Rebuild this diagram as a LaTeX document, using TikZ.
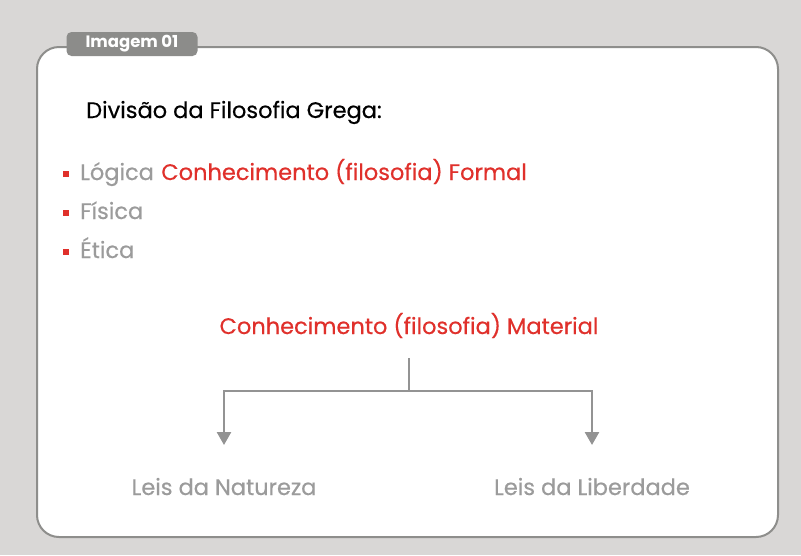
\documentclass[tikz,border=0pt]{standalone}
\usepackage{fontspec}
\setmainfont{Poppins}[FakeBold=0.4]
\newfontfamily\tabfont{Poppins}
\usetikzlibrary{arrows.meta}
\definecolor{bg}{HTML}{D9D7D6}
\definecolor{frame}{HTML}{8E8E8C}
\definecolor{tabc}{HTML}{8C8C8A}
\definecolor{redt}{HTML}{E0302B}
\definecolor{grayt}{HTML}{9B9B9B}
\definecolor{linec}{HTML}{939393}
\tikzset{
  gtext/.style={text=grayt, anchor=base west, inner sep=0pt, font=\fontsize{22.5}{26}\selectfont},
  rtext/.style={text=redt, inner sep=0pt, font=\fontsize{22.5}{26}\selectfont},
  bul/.style={fill=redt, minimum size=6pt, inner sep=0pt},
  conn/.style={draw=linec, line width=2.6pt},
  arr/.style={conn, -{Triangle[length=13pt,width=14pt]}},
}
\begin{document}
\begin{tikzpicture}[x=1pt,y=-1pt]
\useasboundingbox (0,0) rectangle (801,555);
\fill[bg] (0,0) rectangle (801,555);
\draw[frame, fill=white, line width=2pt, rounded corners=22pt] (37,47) rectangle (778,537);
\node[fill=tabc, rounded corners=5pt, minimum width=131pt, minimum height=24pt, inner sep=0pt, text=white, font=\tabfont\bfseries\fontsize{16.5}{18}\selectfont] (tab) at (132,44) {Imagem 01};
\node[anchor=base west, inner sep=0pt, font=\fontsize{22.5}{26}\selectfont] (title) at (86,118) {Divisão da Filosofia Grega:};
\node[bul] (b1) at (66,174) {};
\node[gtext] (l1) at (80,180) {Lógica};
\node[rtext, anchor=base west] (f1) at ([xshift=7pt]l1.base east) {Conhecimento (filosofia) Formal};
\node[bul] (b2) at (66,213) {};
\node[gtext] (l2) at (80,219) {Física};
\node[bul] (b3) at (66,252) {};
\node[gtext] (l3) at (80,258) {Ética};
\node[rtext, anchor=base] (mat) at (409,334) {Conhecimento (filosofia) Material};
\coordinate (top) at (409,358);
\coordinate (mid) at (409,391);
\coordinate (lc) at (224,391);
\coordinate (rc) at (592,391);
\coordinate (le) at (224,445);
\coordinate (re) at (592,445);
\node[gtext, anchor=base] (nat) at (224,495) {Leis da Natureza};
\node[gtext, anchor=base] (lib) at (592,495) {Leis da Liberdade};
\draw[conn] (top) -- (mid);
\draw[arr] (mid) -- (lc) -- (le);
\draw[arr] (mid) -- (rc) -- (re);
\end{tikzpicture}
\end{document}
